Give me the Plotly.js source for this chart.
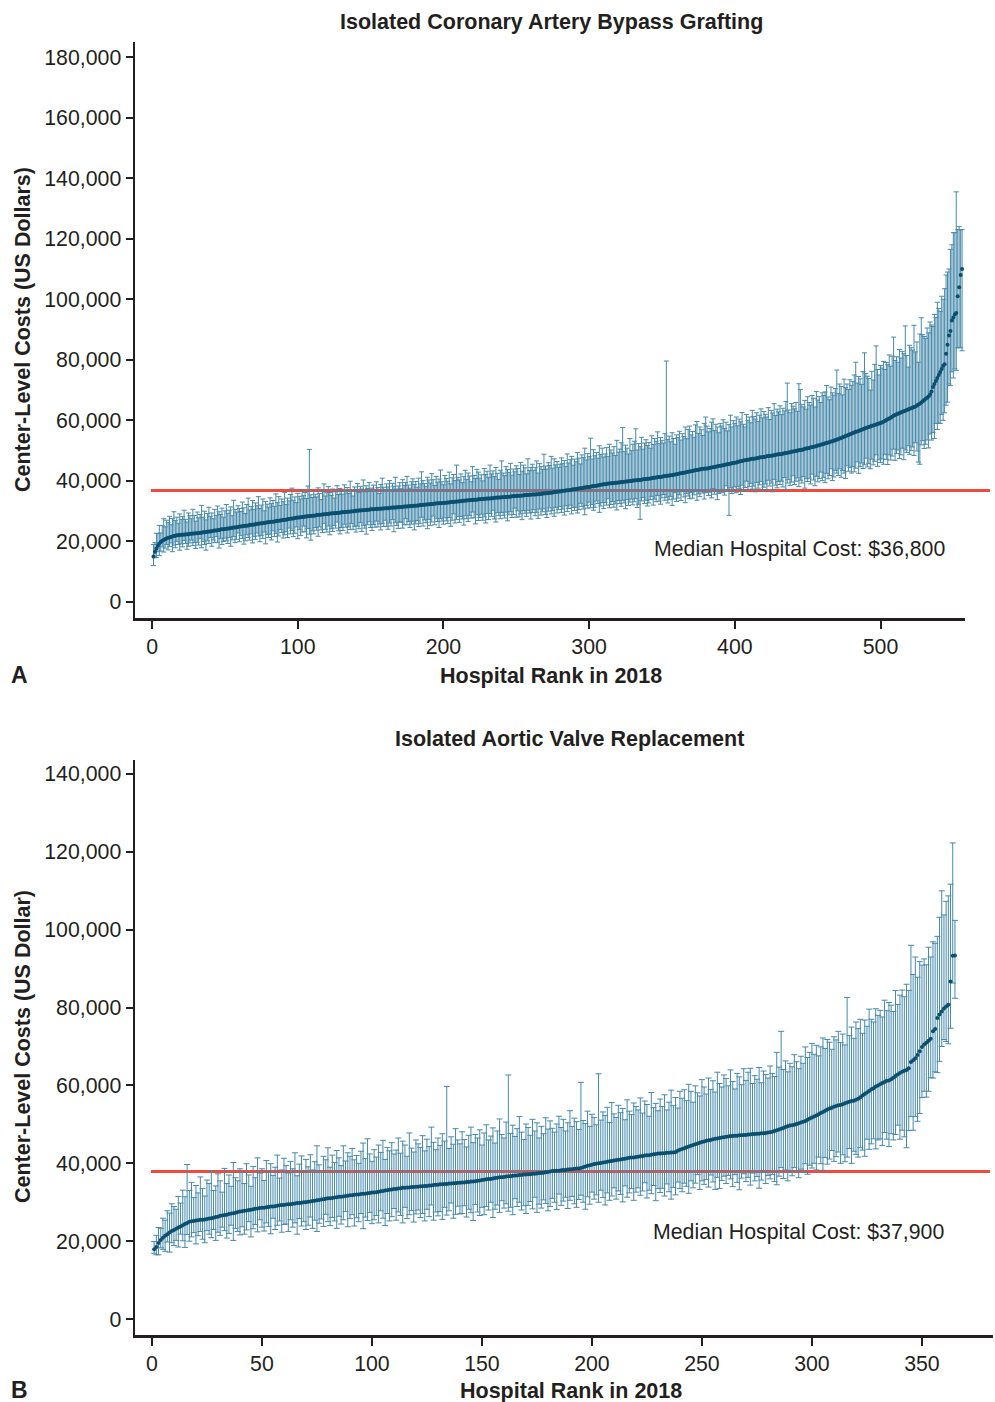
<!DOCTYPE html>
<html>
<head>
<meta charset="utf-8">
<script src="https://cdn.plot.ly/plotly-3.0.1.min.js"></script>
<style>html,body{margin:0;padding:0;background:#fff;}#chart{width:995px;height:1402px;}</style>
</head>
<body>
<div id="chart"></div>
<script>
// ---------- Panel A: Isolated CABG (values in thousands of US dollars) ----------
const cabgCostK = [
15.0,16.6,17.7,18.6,19.3,19.8,20.2,20.5,20.8,21.0,
21.2,21.3,21.5,21.6,21.8,21.9,22.0,22.0,22.1,22.2,
22.2,22.3,22.3,22.4,22.4,22.5,22.5,22.6,22.6,22.7,
22.7,22.8,22.9,22.9,23.0,23.0,23.1,23.2,23.3,23.3,
23.4,23.5,23.6,23.6,23.7,23.8,23.9,24.0,24.0,24.1,
24.2,24.3,24.3,24.4,24.5,24.6,24.6,24.7,24.8,24.9,
24.9,25.0,25.1,25.2,25.2,25.3,25.4,25.5,25.5,25.6,
25.7,25.8,25.8,25.9,26.0,26.0,26.1,26.2,26.3,26.3,
26.4,26.5,26.5,26.6,26.7,26.8,26.8,26.9,27.0,27.1,
27.2,27.2,27.3,27.4,27.5,27.6,27.6,27.7,27.8,27.9,
27.9,28.0,28.1,28.1,28.2,28.2,28.3,28.4,28.4,28.5,
28.5,28.6,28.7,28.7,28.8,28.8,28.9,29.0,29.0,29.1,
29.1,29.2,29.2,29.3,29.3,29.4,29.4,29.5,29.5,29.6,
29.6,29.7,29.7,29.8,29.8,29.9,29.9,30.0,30.0,30.1,
30.1,30.2,30.2,30.3,30.3,30.4,30.4,30.5,30.5,30.6,
30.6,30.6,30.7,30.7,30.8,30.8,30.8,30.9,30.9,31.0,
31.0,31.0,31.1,31.1,31.2,31.2,31.2,31.3,31.3,31.4,
31.4,31.4,31.5,31.5,31.5,31.6,31.6,31.7,31.7,31.8,
31.8,31.9,31.9,32.0,32.0,32.1,32.1,32.2,32.2,32.3,
32.3,32.4,32.4,32.5,32.5,32.6,32.6,32.6,32.7,32.7,
32.8,32.8,32.9,32.9,33.0,33.0,33.1,33.1,33.2,33.2,
33.3,33.3,33.4,33.4,33.5,33.5,33.6,33.6,33.7,33.7,
33.8,33.8,33.8,33.9,33.9,34.0,34.0,34.1,34.1,34.2,
34.2,34.2,34.3,34.3,34.4,34.4,34.5,34.5,34.5,34.6,
34.6,34.7,34.7,34.8,34.8,34.8,34.9,34.9,35.0,35.0,
35.1,35.1,35.1,35.2,35.2,35.3,35.3,35.3,35.4,35.4,
35.5,35.5,35.5,35.6,35.6,35.7,35.7,35.8,35.8,35.9,
35.9,36.0,36.1,36.1,36.2,36.3,36.3,36.4,36.5,36.5,
36.6,36.7,36.7,36.8,36.9,36.9,37.0,37.1,37.2,37.2,
37.3,37.4,37.5,37.6,37.6,37.7,37.8,37.9,38.0,38.0,
38.1,38.2,38.3,38.3,38.4,38.5,38.6,38.7,38.8,38.9,
38.9,39.0,39.1,39.1,39.2,39.2,39.3,39.4,39.4,39.5,
39.5,39.6,39.6,39.7,39.8,39.8,39.9,40.0,40.0,40.1,
40.1,40.2,40.2,40.3,40.3,40.4,40.5,40.5,40.6,40.7,
40.7,40.8,40.9,41.0,41.0,41.1,41.2,41.3,41.3,41.4,
41.5,41.6,41.6,41.7,41.8,41.9,41.9,42.0,42.1,42.2,
42.3,42.4,42.5,42.6,42.7,42.8,42.9,43.0,43.1,43.2,
43.3,43.4,43.5,43.6,43.7,43.8,43.9,44.0,44.0,44.1,
44.1,44.2,44.3,44.4,44.5,44.6,44.7,44.8,44.9,45.0,
45.1,45.2,45.3,45.4,45.5,45.6,45.7,45.8,45.9,46.0,
46.1,46.2,46.4,46.5,46.6,46.7,46.8,46.9,47.0,47.1,
47.2,47.3,47.3,47.4,47.5,47.6,47.7,47.8,47.8,47.9,
48.0,48.1,48.2,48.3,48.3,48.4,48.5,48.6,48.7,48.8,
48.8,48.9,49.0,49.1,49.2,49.3,49.4,49.5,49.6,49.7,
49.8,49.9,50.0,50.1,50.2,50.3,50.4,50.6,50.7,50.8,
50.9,51.0,51.2,51.3,51.4,51.5,51.7,51.8,51.9,52.1,
52.2,52.4,52.5,52.7,52.8,53.0,53.1,53.3,53.5,53.6,
53.8,54.0,54.2,54.4,54.6,54.8,55.0,55.2,55.4,55.6,
55.8,56.0,56.2,56.3,56.5,56.7,56.9,57.1,57.3,57.5,
57.6,57.8,58.0,58.2,58.3,58.5,58.6,58.8,59.0,59.1,
59.3,59.5,59.8,60.1,60.4,60.6,60.9,61.2,61.5,61.8,
62.0,62.2,62.4,62.6,62.8,63.0,63.2,63.4,63.6,63.8,
64.0,64.2,64.4,64.6,64.9,65.2,65.5,65.9,66.3,66.7,
67.1,67.5,67.9,68.5,69.5,71.0,72.0,73.0,74.0,75.0,
76.0,77.0,78.0,78.5,82.0,85.0,88.0,89.5,93.0,94.0,
95.0,95.5,101.0,104.0,108.0,110.0
];
const cabgUpperK = [
4,3,5,4,6,3,5,7,4,6, 5,7,4,6,8,5,6,4,7,5, 6,8,5,4,7,6,5,8,6,4, 7,5,6,9,5,7,4,6,8,5,
6,4,7,5,8,6,5,7,4,6, 8,5,6,7,4,9,6,5,7,6, 5,8,6,4,7,9,5,6,8,5, 7,6,9,5,6,8,4,7,6,5,
8,6,7,5,9,6,8,5,7,6, 9,5,7,6,8,10,6,7,5,8, 7,6,9,7,8,6,10,22,7,6, 8,7,6,9,7,5,8,10,6,7,
9,7,6,8,5,7,9,6,8,7, 6,9,7,8,6,10,7,5,8,7, 9,6,8,7,10,6,8,7,9,6, 7,8,6,9,7,5,8,10,7,6,
8,7,9,6,8,7,10,6,7,8, 6,9,7,8,10,7,6,8,9,7, 8,6,9,7,11,8,7,6,9,8, 7,10,8,6,9,7,8,11,7,6,
9,8,7,10,6,8,9,7,12,8, 7,9,6,8,10,7,9,8,6,11, 8,7,10,9,7,8,6,10,8,9, 7,11,8,9,7,10,8,6,9,12,
8,7,10,9,8,11,7,9,8,10, 9,7,11,8,10,9,7,12,8,9, 10,8,9,11,7,10,9,8,13,9, 8,10,9,12,8,11,9,10,8,9,
11,9,10,8,12,9,10,11,8,10, 9,12,10,8,11,10,13,9,11,10, 16,9,12,10,11,9,13,10,12,9, 10,12,9,13,11,10,12,9,14,10,
11,13,18,10,12,11,9,14,10,12, 13,17,10,12,11,14,10,12,13,11, 12,10,14,11,13,12,15,11,13,12, 11,14,38,12,13,11,14,12,10,13,
12,14,11,13,12,15,11,14,15,12, 13,11,15,16,12,14,13,11,15,17, 14,12,13,15,16,12,14,13,11,14, 13,15,12,14,11,13,16,12,14,13,
15,12,14,13,16,12,11,15,13,14, 12,16,14,13,15,12,14,16,13,15, 14,13,16,12,15,14,17,13,15,14, 16,13,15,14,17,23,14,13,16,15,
14,16,13,22,20,15,14,16,13,17, 15,14,17,16,13,18,15,16,14,17, 16,17,19,15,14,18,16,15,17,23, 15,18,17,14,19,16,17,15,18,16,
17,19,23,16,18,17,15,19,25,18, 17,16,12,18,15,20,26,18,16,19, 18,20,17,19,18,21,17,20,26,18, 19,17,21,18,20,19,28,18,14,21,
20,19,27,18,21,14,23,28,22,21, 20,23,21,24,22,20,23,21,25,22, 20,24,22,25,26,24,22,27,25,28,
27,40,22,20,15,13
];
const cabgLowerK = [
3,2,3,2,4,3,2,4,3,2, 4,3,2,5,3,4,2,3,5,3, 4,2,3,5,4,3,2,4,3,5, 3,4,2,5,3,4,6,3,4,2,
5,3,4,2,4,6,3,5,4,3, 4,5,3,6,4,3,5,4,2,5, 3,4,6,5,3,4,5,3,6,4, 5,3,4,6,4,5,3,7,4,5,
4,6,3,5,4,7,5,3,4,6, 5,4,6,3,5,4,6,5,3,7, 4,6,5,3,5,7,4,6,8,5, 6,4,5,7,4,5,6,3,5,6,
4,7,5,6,4,5,3,6,7,5, 6,4,5,7,5,6,4,6,5,7, 5,6,4,7,5,6,8,5,4,6, 7,5,6,4,6,5,7,5,6,4,
6,7,5,6,4,8,5,6,7,5, 5,7,6,4,6,5,7,6,5,8, 6,5,7,6,4,7,5,6,8,5, 7,6,4,7,5,6,8,5,6,7,
5,6,7,5,8,6,4,7,6,5, 7,5,6,8,5,6,7,5,6,4, 6,8,5,7,6,5,7,6,8,5, 7,5,6,4,7,8,5,6,7,5,
6,7,5,8,6,5,7,6,4,7, 5,7,6,8,5,6,7,5,6,8, 6,5,7,6,8,5,7,6,5,7, 8,6,5,7,6,8,5,7,6,5,
7,6,8,5,7,6,5,8,6,7, 6,8,7,5,6,7,9,6,7,5, 7,6,8,7,5,6,9,7,6,8, 6,7,5,8,7,6,8,7,9,6,
7,8,6,7,9,6,8,7,6,8, 7,6,9,8,13,7,6,8,7,9, 8,7,6,9,7,8,6,8,9,7, 6,8,7,9,8,7,10,8,6,9,
8,7,9,6,8,10,7,8,9,7, 9,8,7,10,8,9,7,8,10,8, 7,9,8,10,7,9,8,11,9,8, 9,8,10,7,9,17,8,10,9,8,
10,8,9,11,8,10,9,7,10,9, 8,10,9,11,8,10,9,8,11,10, 9,11,8,10,9,12,8,10,11,9, 10,9,11,8,12,10,9,11,10,8,
11,10,9,12,10,11,9,13,10,11, 10,12,9,11,13,10,12,11,9,12, 11,13,10,12,11,9,13,12,10,11, 12,10,13,11,12,14,10,12,11,13,
11,13,12,10,14,12,11,13,12,10, 13,12,14,11,13,12,10,14,12,13, 12,14,11,13,15,12,14,13,11,15, 13,12,15,14,12,16,13,14,12,15,
14,13,16,12,15,19,20,14,13,16, 15,14,17,13,16,15,18,14,17,16, 17,15,18,16,17,19,16,18,17,20,
18,19,17,20,24,27
];
const cabgMedianCost = 36800;

// ---------- Panel B: Isolated AVR (values in thousands of US dollars) ----------
const avrCostK = [
17.9,18.5,19.5,20.3,20.9,21.4,21.8,22.2,22.6,22.9,
23.2,23.5,23.8,24.1,24.4,24.7,25.0,25.1,25.2,25.3,
25.4,25.5,25.5,25.6,25.7,25.8,25.9,26.0,26.2,26.3,
26.5,26.6,26.7,26.8,27.0,27.1,27.2,27.3,27.5,27.6,
27.7,27.8,27.9,28.0,28.1,28.2,28.3,28.4,28.5,28.6,
28.6,28.7,28.8,28.9,28.9,29.0,29.1,29.2,29.3,29.3,
29.4,29.5,29.5,29.6,29.7,29.8,29.8,29.9,30.0,30.0,
30.1,30.2,30.3,30.4,30.5,30.6,30.7,30.8,30.9,31.0,
31.0,31.1,31.2,31.3,31.4,31.4,31.5,31.6,31.7,31.8,
31.8,31.9,32.0,32.0,32.1,32.2,32.2,32.3,32.4,32.5,
32.5,32.6,32.7,32.8,32.9,33.0,33.1,33.2,33.3,33.4,
33.4,33.5,33.6,33.7,33.7,33.8,33.8,33.9,33.9,34.0,
34.0,34.1,34.1,34.2,34.2,34.3,34.3,34.4,34.5,34.5,
34.6,34.6,34.7,34.7,34.8,34.8,34.9,34.9,35.0,35.0,
35.1,35.1,35.2,35.2,35.3,35.3,35.4,35.5,35.6,35.7,
35.8,35.9,36.0,36.0,36.1,36.2,36.3,36.4,36.4,36.5,
36.6,36.7,36.7,36.8,36.9,36.9,37.0,37.0,37.1,37.1,
37.2,37.2,37.3,37.3,37.4,37.5,37.5,37.6,37.7,37.8,
37.9,38.0,38.0,38.1,38.1,38.2,38.3,38.3,38.4,38.5,
38.5,38.6,38.7,38.7,38.8,39.0,39.2,39.4,39.5,39.6,
39.8,39.9,40.0,40.1,40.2,40.3,40.4,40.5,40.6,40.7,
40.8,40.9,41.0,41.1,41.2,41.3,41.4,41.5,41.5,41.6,
41.7,41.8,41.9,42.0,42.1,42.1,42.2,42.3,42.4,42.5,
42.5,42.6,42.6,42.7,42.7,42.8,42.8,42.9,43.2,43.5,
43.7,43.9,44.1,44.3,44.5,44.7,44.9,45.1,45.3,45.5,
45.6,45.8,45.9,46.0,46.2,46.3,46.4,46.5,46.6,46.7,
46.8,46.9,47.0,47.0,47.1,47.1,47.2,47.2,47.3,47.3,
47.4,47.4,47.5,47.5,47.6,47.6,47.7,47.7,47.8,47.9,
48.0,48.1,48.3,48.5,48.7,48.9,49.1,49.3,49.5,49.7,
49.8,49.9,50.1,50.3,50.5,50.7,50.9,51.2,51.5,51.8,
52.0,52.3,52.6,52.9,53.2,53.5,53.8,54.1,54.3,54.5,
54.7,54.9,55.0,55.2,55.4,55.6,55.8,56.0,56.1,56.3,
56.6,57.0,57.4,57.8,58.2,58.6,59.0,59.3,59.7,60.0,
60.3,60.6,60.9,61.2,61.3,61.6,62.0,62.4,62.8,63.2,
63.5,63.8,64.0,64.4,66.0,66.5,67.0,67.8,68.8,69.9,
70.5,71.0,71.5,72.0,73.9,74.5,77.3,78.2,79.0,79.8,
80.3,80.7,86.7,93.3,93.4
];
const avrUpperK = [
2,3,4,3,5,4,6,5,7,6, 5,8,6,9,7,15,8,10,6,9, 7,11,8,6,10,9,12,7,8,11, 9,6,12,8,10,7,13,9,8,11,
10,7,12,9,6,11,8,13,9,10, 7,12,9,11,8,10,13,7,9,12, 10,8,11,9,13,7,10,12,8,11, 9,12,8,10,14,9,7,11,10,13,
8,11,9,12,10,8,13,9,11,10, 12,9,10,8,11,13,9,14,10,8, 11,9,12,10,13,8,11,10,12,9, 10,13,9,12,11,8,14,10,9,12,
11,10,13,9,12,10,15,11,9,12, 10,13,11,25,9,12,10,14,11,10, 13,11,9,12,14,10,12,11,13,9, 12,14,10,11,13,9,12,15,11,10,
14,26,11,13,10,12,15,11,9,13, 12,10,14,11,13,9,12,10,14,11, 13,11,10,12,14,11,13,10,12,15, 11,13,12,10,22,12,11,14,10,13,
12,10,23,11,13,12,14,10,15,12, 11,14,12,13,10,15,12,11,14,13, 12,15,11,14,13,10,16,12,13,11, 14,12,15,11,13,16,12,14,11,15,
13,15,12,16,14,11,15,13,12,16, 14,12,16,13,15,12,17,14,13,16, 15,13,17,14,12,16,15,13,17,14, 16,17,13,15,14,17,13,16,15,14,
17,15,14,20,16,25,15,17,14,16, 15,18,16,14,17,15,19,16,17,19, 16,18,15,17,19,16,18,17,15,18, 17,19,16,18,15,27,17,19,16,20,
18,20,16,19,17,21,18,17,20,18, 19,17,21,18,20,19,17,22,18,20, 21,19,22,20,30,22,26,20,23,21, 22,20,24,21,23,22,21,25,31,24,
27,28,25,29,9
];
const avrLowerK = [
1,2,3,2,3,4,2,5,3,4, 3,5,2,4,6,3,5,4,3,6, 4,3,5,6,3,4,5,3,6,4, 5,3,4,6,5,3,7,4,5,6,
4,6,5,3,7,5,4,6,3,5, 6,4,5,7,3,6,5,4,7,5, 5,7,4,6,5,8,4,6,5,7, 6,4,7,5,8,6,5,7,4,6,
7,5,6,8,5,7,6,4,8,6, 5,8,6,7,5,9,6,7,5,8, 7,6,8,5,7,9,6,8,7,5, 8,6,7,9,5,8,7,6,9,7,
6,8,7,9,6,8,5,9,7,8, 7,9,6,8,7,5,9,8,6,8, 8,6,9,7,8,10,6,8,9,7, 9,7,8,6,10,8,7,9,6,8,
7,9,8,10,6,8,7,9,8,10, 8,7,9,6,10,8,9,7,8,10, 9,7,8,10,6,9,8,7,10,8, 7,9,10,8,7,9,11,8,10,7,
9,8,10,7,9,11,8,10,9,7, 10,8,9,11,7,10,9,8,11,9, 8,10,9,7,11,9,10,8,12,9, 10,9,11,8,10,12,9,11,8,10,
11,9,10,12,9,11,10,8,12,10, 11,10,12,9,11,13,10,13,11,10, 12,10,11,13,10,12,14,11,10,12, 11,13,10,12,11,14,12,10,13,11,
12,11,13,14,12,10,13,11,14,12, 13,11,12,14,12,13,11,14,12,13, 12,14,11,13,15,12,14,13,11,14, 13,12,15,13,15,14,12,16,13,14,
15,13,14,16,12,15,14,13,16,14, 14,16,13,15,17,14,16,15,13,17, 15,17,20,16,14,18,15,17,16,13, 12,14,13,10,12,11,14,12,9,8,
9,10,12,7,11
];
const avrMedianCost = 37900;

const titles = ["Isolated Coronary Artery Bypass Grafting", "Isolated Aortic Valve Replacement"];
const yTitles = ["Center-Level Costs (US Dollars)", "Center-Level Costs (US Dollar)"];
const xTitle = "Hospital Rank in 2018";
const medianLabels = ["Median Hospital Cost: $36,800", "Median Hospital Cost: $37,900"];
const panelLetters = ["A", "B"];

// ---------- drawing ----------
const K = 1000;
const toDollars = a => a.map(v => v * K);
const ranks = a => a.map((_, i) => i + 1);

const barColor = '#4689ab';
const dotColor = '#0b4f70';
const textColor = '#231f20';
const redColor = '#ef4a3c';
const FONT = 'Liberation Sans, Arial, Helvetica, sans-serif';
const FS = 21.3;

function panelTrace(cost, up, lo, xa, ya, capW) {
  return {
    type: 'scatter', mode: 'markers', xaxis: xa, yaxis: ya,
    x: ranks(cost), y: toDollars(cost),
    marker: {color: dotColor, size: 4, line: {width: 0}},
    error_y: {type: 'data', symmetric: false, array: toDollars(up), arrayminus: toDollars(lo),
              color: barColor, thickness: 1, width: capW},
    showlegend: false, hoverinfo: 'x+y'
  };
}

const traces = [
  panelTrace(cabgCostK, cabgUpperK, cabgLowerK, 'x', 'y', 2.5),
  panelTrace(avrCostK, avrUpperK, avrLowerK, 'x2', 'y2', 3)
];

// page geometry (px)
const W = 995, H = 1402, mL = 135, mR = 2, mT = 42, mB = 67;
const pw = W - mL - mR, ph = H - mT - mB;
const px = x => (x - mL) / pw;
const py = y => (H - mB - y) / ph;

const axisCommon = {
  showgrid: false, zeroline: false, showline: true, linecolor: textColor, linewidth: 2.5,
  ticks: 'outside', ticklen: 7, tickwidth: 2, tickcolor: textColor,
  tickfont: {family: FONT, size: FS, color: textColor}, fixedrange: true
};

function note(text, x, y, opts) {
  return Object.assign({text: text, xref: 'paper', yref: 'paper', x: px(x), y: py(y), xanchor: 'center', yanchor: 'middle',
    showarrow: false, font: {size: FS + 0.2, family: FONT, color: textColor}}, opts || {});
}

const layout = {
  width: W, height: H,
  margin: {l: mL, r: mR, t: mT, b: mB},
  paper_bgcolor: '#fff', plot_bgcolor: '#fff',
  font: {family: FONT, color: textColor},
  xaxis: Object.assign({}, axisCommon, {domain: [0, px(965)], range: [-11.7, 558], tick0: 0, dtick: 100, anchor: 'y', ticklen: 8}),
  yaxis: Object.assign({}, axisCommon, {domain: [py(618), 1], range: [-5300, 185000], tick0: 0, dtick: 20000, tickformat: ',', anchor: 'x'}),
  xaxis2: Object.assign({}, axisCommon, {domain: [0, 1], range: [-7.7, 382.3], tick0: 0, dtick: 50, anchor: 'y2', ticklen: 8}),
  yaxis2: Object.assign({}, axisCommon, {domain: [0, py(760)], range: [-4100, 143600], tick0: 0, dtick: 20000, tickformat: ',', anchor: 'x2'}),
  shapes: [
    {type: 'line', xref: 'paper', yref: 'y', x0: px(151), x1: px(990), y0: cabgMedianCost, y1: cabgMedianCost,
     line: {color: redColor, width: 3}, layer: 'below'},
    {type: 'line', xref: 'paper', yref: 'y2', x0: px(151), x1: px(990), y0: avrMedianCost, y1: avrMedianCost,
     line: {color: redColor, width: 3}, layer: 'below'}
  ],
  annotations: [
    note('<b>' + titles[0] + '</b>', 551, 22),
    note('<b>' + titles[1] + '</b>', 569, 739),
    note('<b>' + xTitle + '</b>', 551, 676),
    note('<b>' + xTitle + '</b>', 571, 1391),
    note('<b>' + yTitles[0] + '</b>', 23, 330, {textangle: -90}),
    note('<b>' + yTitles[1] + '</b>', 23, 1047, {textangle: -90}),
    note('<b>' + panelLetters[0] + '</b>', 20, 675, {font: {size: 23, family: FONT, color: textColor}}),
    note('<b>' + panelLetters[1] + '</b>', 20, 1390, {font: {size: 23, family: FONT, color: textColor}}),
    {text: medianLabels[0], xref: 'x', yref: 'y', x: 343.5, y: 17500, xanchor: 'left', yanchor: 'middle', showarrow: false, font: {size: FS, family: FONT, color: textColor}},
    {text: medianLabels[1], xref: 'x2', yref: 'y2', x: 226.8, y: 22350, xanchor: 'left', yanchor: 'middle', showarrow: false, font: {size: FS, family: FONT, color: textColor}}
  ]
};

Plotly.newPlot('chart', traces, layout, {displayModeBar: false, staticPlot: true});
</script>
</body>
</html>
